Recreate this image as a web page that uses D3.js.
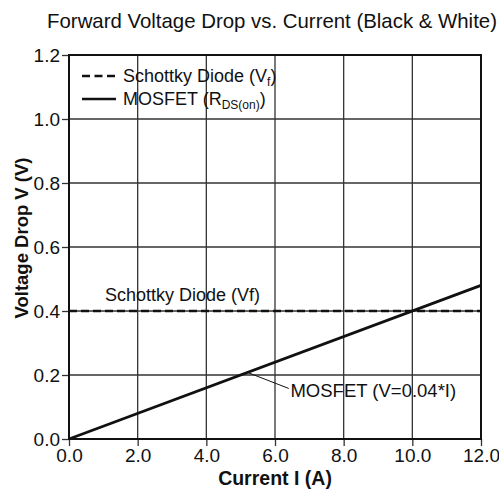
<!DOCTYPE html>
<html>
<head>
<meta charset="utf-8">
<script src="https://cdn.jsdelivr.net/npm/d3@7"></script>
<style>
  body { margin: 0; background: #fff; }
  text { font-family: "Liberation Sans", Arial, sans-serif; fill: #111; }
</style>
</head>
<body>
<div id="chart"></div>
<script>
// data
const currents = [0, 12];
const schottkyVf = [0.4, 0.4];
const mosfetV = [0, 0.48];
const xTicks = [0, 2, 4, 6, 8, 10, 12];
const yTicks = [0, 0.2, 0.4, 0.6, 0.8, 1.0, 1.2];

const width = 499, height = 491;
const margin = {top: 55, right: 18, bottom: 52, left: 69};
const w = width - margin.left - margin.right;
const h = height - margin.top - margin.bottom;

const svg = d3.select('#chart').append('svg')
  .attr('width', width)
  .attr('height', height);

svg.append('text')
  .attr('x', 272)
  .attr('y', 28)
  .attr('text-anchor', 'middle')
  .attr('font-size', 20.4)
  .text('Forward Voltage Drop vs. Current (Black & White)');

const g = svg.append('g')
  .attr('transform', `translate(${margin.left},${margin.top})`);

const x = d3.scaleLinear().domain([0, 12]).range([0, w]);
const y = d3.scaleLinear().domain([0, 1.2]).range([h, 0]);

// grid
g.append('g')
  .selectAll('line')
  .data(xTicks)
  .enter()
  .append('line')
  .attr('x1', d => x(d)).attr('x2', d => x(d))
  .attr('y1', 0).attr('y2', h)
  .attr('stroke', '#333')
  .attr('stroke-width', 1.3);

g.append('g')
  .selectAll('line')
  .data(yTicks)
  .enter()
  .append('line')
  .attr('x1', 0).attr('x2', w)
  .attr('y1', d => y(d)).attr('y2', d => y(d))
  .attr('stroke', '#333')
  .attr('stroke-width', 1.3);

// axes
const xAxis = g.append('g')
  .attr('transform', `translate(0,${h})`)
  .call(d3.axisBottom(x).tickValues(xTicks).tickFormat(d3.format('.1f')).tickSize(7).tickPadding(3));
const yAxis = g.append('g')
  .call(d3.axisLeft(y).tickValues(yTicks).tickFormat(d3.format('.1f')).tickSize(7).tickPadding(2));

[xAxis, yAxis].forEach(a => {
  a.select('.domain').remove();
  a.selectAll('line').attr('stroke', '#333').attr('stroke-width', 1.3);
  a.selectAll('text').attr('font-size', 19).attr('fill', '#111')
    .style('font-family', '"Liberation Sans", Arial, sans-serif');
});

// frame
g.append('rect')
  .attr('width', w).attr('height', h)
  .attr('fill', 'none')
  .attr('stroke', '#111')
  .attr('stroke-width', 2);

const line = d3.line().x(d => x(d[0])).y(d => y(d[1]));

g.append('path')
  .datum(currents.map((c, i) => [c, schottkyVf[i]]))
  .attr('d', line)
  .attr('fill', 'none')
  .attr('stroke', '#111')
  .attr('stroke-width', 2.5)
  .attr('stroke-dasharray', '8,4');

g.append('path')
  .datum(currents.map((c, i) => [c, mosfetV[i]]))
  .attr('d', line)
  .attr('fill', 'none')
  .attr('stroke', '#111')
  .attr('stroke-width', 2.8);

// annotations
g.append('text')
  .attr('x', x(1.05))
  .attr('y', y(0.4) - 10)
  .attr('font-size', 18)
  .text('Schottky Diode (Vf)');

g.append('line')
  .attr('x1', x(5.2)).attr('y1', y(0.208))
  .attr('x2', x(6.4)).attr('y2', y(0.158))
  .attr('stroke', '#111')
  .attr('stroke-width', 1);

g.append('text')
  .attr('x', x(6.45))
  .attr('y', y(0.13))
  .attr('font-size', 18.5)
  .text('MOSFET (V=0.04*I)');

// legend
const leg = g.append('g').attr('transform', 'translate(13,21)');
leg.append('line')
  .attr('x1', 0).attr('x2', 34).attr('y1', 0).attr('y2', 0)
  .attr('stroke', '#111').attr('stroke-width', 2.5)
  .attr('stroke-dasharray', '8,4.5');
leg.append('line')
  .attr('x1', 0).attr('x2', 34).attr('y1', 23).attr('y2', 23)
  .attr('stroke', '#111').attr('stroke-width', 2.5);

const t1 = leg.append('text').attr('x', 41).attr('y', 6).attr('font-size', 18);
t1.append('tspan').text('Schottky Diode (V');
t1.append('tspan').attr('font-size', 12).attr('dy', 4).text('f');
t1.append('tspan').attr('dy', -4).text(')');

const t2 = leg.append('text').attr('x', 41).attr('y', 29).attr('font-size', 18);
t2.append('tspan').text('MOSFET (R');
t2.append('tspan').attr('font-size', 12).attr('dy', 4).text('DS(on)');
t2.append('tspan').attr('dy', -4).text(')');

// axis titles
svg.append('text')
  .attr('x', margin.left + w / 2)
  .attr('y', 485)
  .attr('text-anchor', 'middle')
  .attr('font-size', 19.5)
  .attr('font-weight', 'bold')
  .text('Current I (A)');

svg.append('text')
  .attr('transform', 'translate(28,238) rotate(-90)')
  .attr('text-anchor', 'middle')
  .attr('font-size', 18.5)
  .attr('font-weight', 'bold')
  .text('Voltage Drop V (V)');
</script>
</body>
</html>
